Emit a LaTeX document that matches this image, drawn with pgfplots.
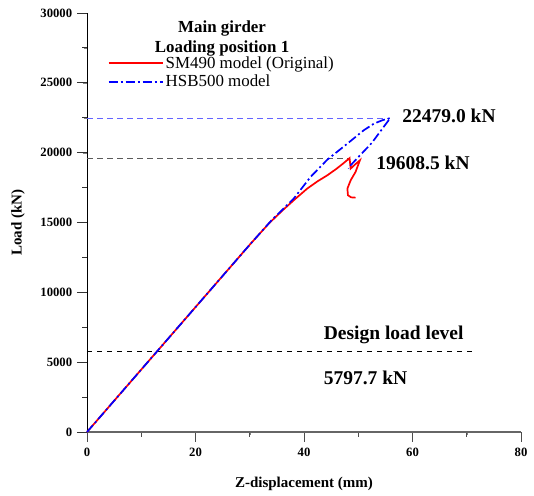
\documentclass[border=0pt]{standalone}
\usepackage{fontspec}
\setmainfont{Liberation Serif}
\usepackage{pgfplots}
\pgfplotsset{compat=1.18}
\definecolor{refblue}{RGB}{100,100,255}
\definecolor{refgray}{RGB}{90,90,90}
\definecolor{lineblue}{RGB}{0,0,255}
\begin{document}
\begin{tikzpicture}
\begin{axis}[
  scale only axis,
  width=434pt, height=419pt,
  xmin=0, xmax=80, ymin=0, ymax=30000,
  axis lines=left,
  axis line style={-},
  xtick={0,20,40,60,80}, ytick={0,5000,...,30000},
  minor x tick num=1, minor y tick num=1,
  tick align=outside,
  scaled y ticks=false,
  /pgf/number format/assume math mode=true,
  yticklabel={\pgfmathprintnumber[fixed,1000 sep={}]{\tick}},
  tick label style={font=\fontsize{12.7}{14}\selectfont\bfseries},
  xticklabel style={yshift=-8pt},
  yticklabel style={xshift=-7pt},
  xlabel={Z-displacement (mm)},
  ylabel={Load (kN)},
  label style={font=\fontsize{15}{17}\selectfont\bfseries},
  xlabel style={at={(axis description cs:0.5,-0.124)}, anchor=center},
  ylabel style={at={(axis description cs:-0.159,0.5)}, anchor=center, rotate=0},
  clip=false,
  legend style={draw=none, fill=none, at={(axis cs:3.6,27100)}, anchor=north west,
    font=\fontsize{16.9}{19}\selectfont, row sep=1pt, inner sep=1pt},
  legend cell align=left,
  legend image code/.code={\draw (0pt,0pt) -- (54pt,0pt);},
]
\addlegendimage{legend image code/.code={\draw[red, line width=1.7pt] (0pt,0pt) -- (54pt,0pt);}}
\addlegendentry{SM490 model (Original)}
\addlegendimage{legend image code/.code={\draw[lineblue, line width=2pt, dash pattern=on 9pt off 3pt on 2pt off 3pt] (0pt,0pt) -- (54pt,0pt);}}
\addlegendentry{HSB500 model}
% tick marks
\pgfplotsinvokeforeach{0,20,40,60,80}{\draw[black!70, line width=0.9pt] (axis cs:#1,0) -- ++(0pt,-10pt);}
\pgfplotsinvokeforeach{10,30,50,70}{\draw[black!70, line width=0.9pt] (axis cs:#1,0) -- ++(0pt,-5pt);}
\pgfplotsinvokeforeach{0,5000,10000,15000,20000,25000,30000}{\draw[black!80, line width=0.9pt] (axis cs:0,#1) -- ++(-10pt,0pt);}
\pgfplotsinvokeforeach{2500,7500,12500,17500,22500,27500}{\draw[black!80, line width=0.9pt] (axis cs:0,#1) -- ++(-5pt,0pt);}
\draw[black!60, line width=1.2pt] (axis cs:0,0) -- (axis cs:80,0);
% reference lines
\addplot[refblue, line width=1pt, dash pattern=on 6pt off 4pt, forget plot] coordinates {(0,22479.0) (55.9,22479.0)};
\addplot[refgray, line width=1pt, dash pattern=on 6pt off 4pt, forget plot] coordinates {(0,19608.5) (48.4,19608.5)};
\addplot[black, line width=0.8pt, dash pattern=on 5pt off 5pt, forget plot] coordinates {(0,5797.7) (71.3,5797.7)};
% SM490
\addplot[red, line width=1.7pt, forget plot] coordinates {
(0,0) (10,4470) (20,8940) (30,13410) (33.5,14920) (36,15850) (38.1,16590)
(40.6,17430) (42.5,17950) (44.3,18380) (46,18850) (47.3,19250) (48.0,19480)
(48.4,19608.5) (48.6,18860) (49.4,19150) (50.3,19450) (49.5,18620) (48.6,18020)
(48.0,17430) (48.1,16950) (48.7,16800) (49.5,16780)
};
% HSB500
\addplot[lineblue, line width=1.7pt, dash pattern=on 9pt off 3pt on 2pt off 3pt, forget plot] coordinates {
(0,0) (10,4470) (20,8940) (30,13410) (34,15150) (38.1,16710) (41.2,18260)
(44.3,19500) (48.0,20650) (51.0,21600) (52.9,22080) (54.5,22330) (55.9,22479.0)
(52.5,20700) (48.6,19100) (48.2,18860)
};
% annotations
\node[font=\fontsize{16.9}{20}\selectfont\bfseries, align=center, anchor=center]
  at (axis cs:24.9,28160) {Main girder\\Loading position 1};
\node[font=\fontsize{19.5}{22}\selectfont\bfseries, anchor=west] at (axis cs:57.5,22600) {22479.0 kN};
\node[font=\fontsize{19.5}{22}\selectfont\bfseries, anchor=west] at (axis cs:52.7,19300) {19608.5 kN};
\node[font=\fontsize{19.5}{22}\selectfont\bfseries, anchor=west] at (axis cs:43.0,6950) {Design load level};
\node[font=\fontsize{19.5}{22}\selectfont\bfseries, anchor=west] at (axis cs:43.0,3900) {5797.7 kN};
\end{axis}
\pgfresetboundingbox
\path[use as bounding box] (-87pt,-63pt) rectangle (447pt,432pt);
\end{tikzpicture}
\end{document}
